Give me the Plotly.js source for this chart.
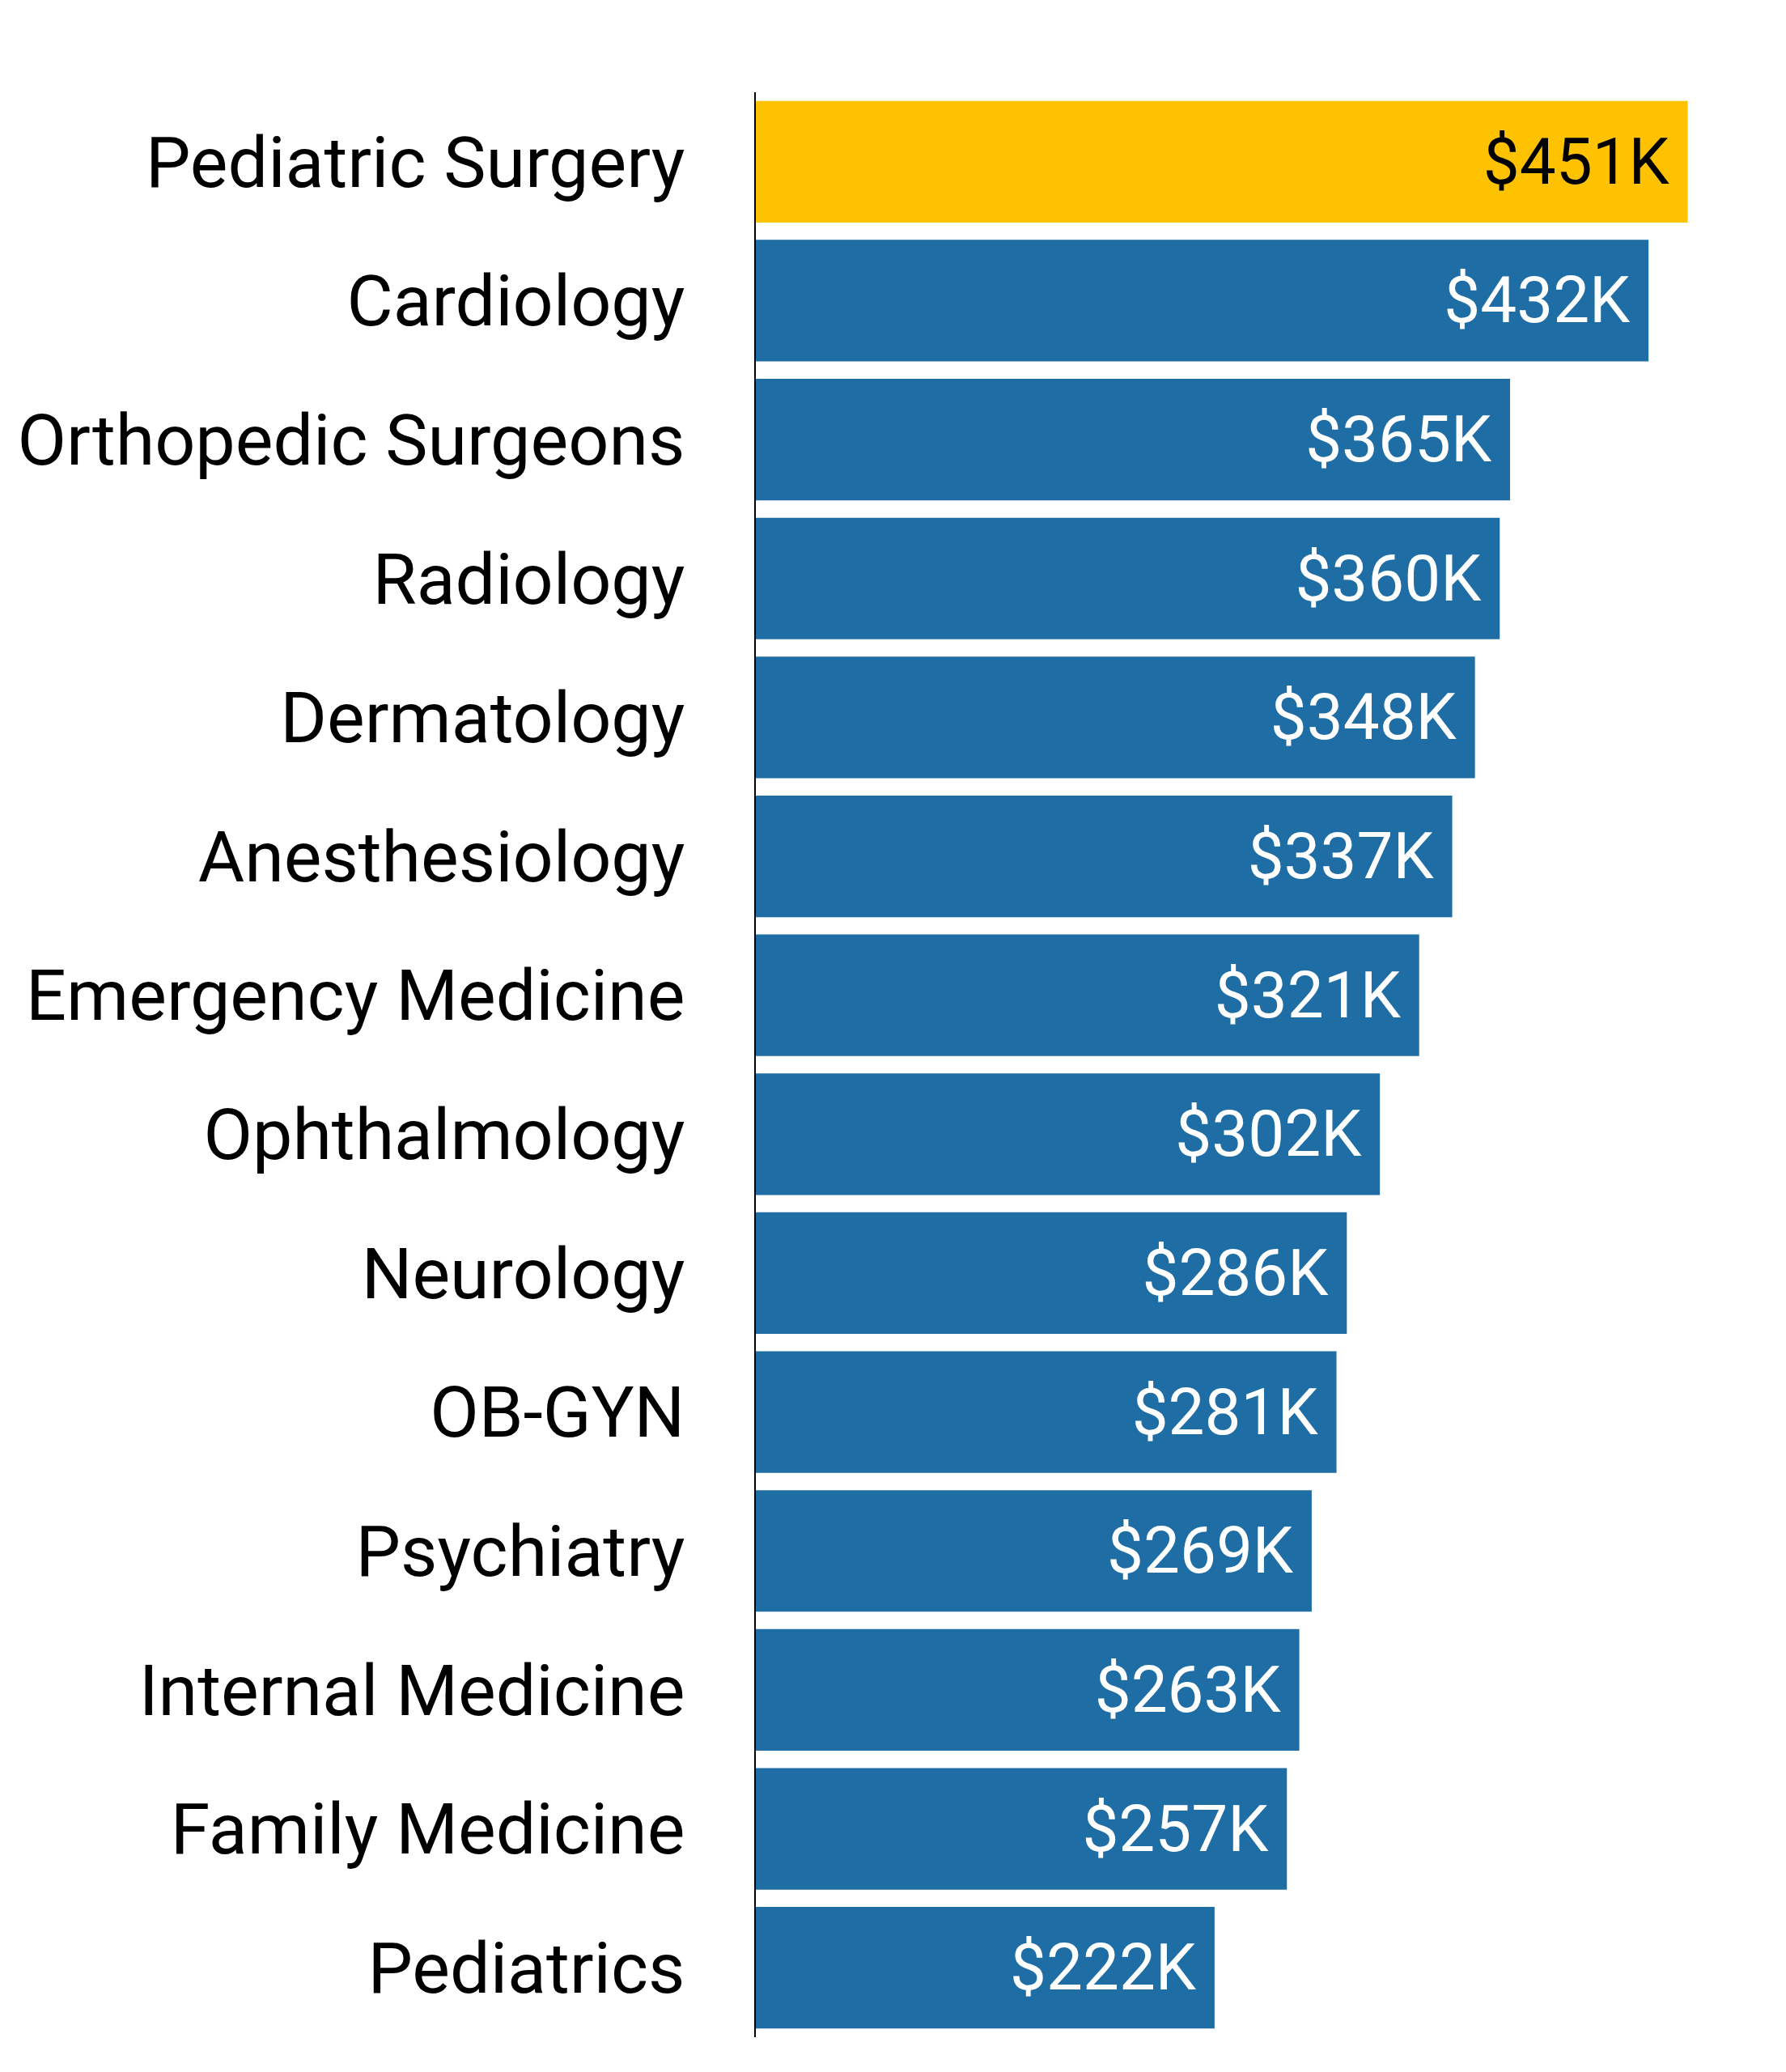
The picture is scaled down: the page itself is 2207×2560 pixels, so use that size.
<!DOCTYPE html>
<html>
<head>
<meta charset="utf-8">
<script src="https://cdn.plot.ly/plotly-3.0.1.min.js"></script>
<style>html,body{margin:0;padding:0;background:#fff;}#chart{width:2207px;height:2560px;}</style>
</head>
<body>
<div id="chart"></div>
<script>
const specialties = ["Pediatric Surgery","Cardiology","Orthopedic Surgeons","Radiology","Dermatology","Anesthesiology","Emergency Medicine","Ophthalmology","Neurology","OB-GYN","Psychiatry","Internal Medicine","Family Medicine","Pediatrics"];
const salariesK = [451,432,365,360,348,337,321,302,286,281,269,263,257,222];
const highlightIndex = 0;

const barColors = salariesK.map((v,i)=> i===highlightIndex ? "#FFC200" : "#1F6DA5");
const textColors = salariesK.map((v,i)=> i===highlightIndex ? "#000000" : "#FFFFFF");
const labels = salariesK.map(v => "$" + v + "K\u00a0");

const trace = {
  type: "bar",
  orientation: "h",
  y: specialties,
  x: salariesK,
  text: labels,
  textposition: "inside",
  insidetextanchor: "end",
  textangle: 0,
  textfont: {family: "Roboto, sans-serif", size: 80, color: textColors},
  insidetextfont: {family: "Roboto, sans-serif", size: 80, color: textColors},
  marker: {color: barColors, line: {width: 0}},
  hoverinfo: "none",
  cliponaxis: false
};

const layout = {
  width: 2207,
  height: 2560,
  margin: {l: 934, r: 9, t: 114, b: 43},
  paper_bgcolor: "#ffffff",
  plot_bgcolor: "#ffffff",
  bargap: 0.125,
  showlegend: false,
  uniformtext: {mode: false},
  xaxis: {range: [0, 495], showgrid: false, zeroline: false, showticklabels: false, ticks: "", showline: false, fixedrange: true},
  yaxis: {
    autorange: "reversed",
    showgrid: false, zeroline: false,
    showline: true, linecolor: "#000000", linewidth: 2,
    ticks: "", ticklabelstandoff: 68,
    tickfont: {family: "Roboto, sans-serif", size: 88, color: "#000000"},
    fixedrange: true
  },
  font: {family: "Roboto, sans-serif"}
};

Plotly.newPlot("chart", [trace], layout, {displayModeBar: false, staticPlot: true});
</script>
</body>
</html>
